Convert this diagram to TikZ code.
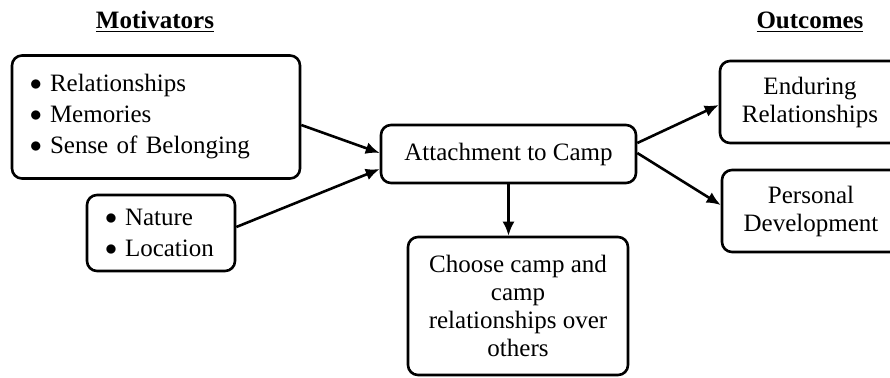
\documentclass[tikz,border=0pt]{standalone}
\usepackage{fontspec}
\setmainfont{Liberation Serif}
\usetikzlibrary{arrows.meta}

\newcommand{\bul}{\raisebox{0.5pt}{$\bullet$}\hspace{4pt}}

\tikzset{
  box/.style={draw=black, line width=1.3pt, rounded corners=5pt, fill=white,
    font=\fontsize{12.5}{14}\selectfont, align=center, inner sep=2pt},
  listbox/.style={box, align=left, inner xsep=9pt, inner ysep=2pt,
    font=\fontsize{12.5}{15.5}\selectfont},
  title/.style={font=\fontsize{12.5}{14}\selectfont\bfseries, inner sep=0pt},
  link/.style={line width=1.3pt, -{Latex[length=7pt,width=6pt]}}
}

\begin{document}
\begin{tikzpicture}[x=0.5pt,y=-0.5pt]
\clip (0,0) rectangle (890,377);
\fill [white] (0,0) rectangle (890,377);
% headings
\node [title] (motiv) at (155,22) {\underline{Motivators}};
\node [title] (outc) at (810,22) {\underline{Outcomes}};
% motivators
\node [listbox, text width=126pt, minimum height=61.5pt] (rel) at (156,117)
  {\bul Relationships\\ \bul Memories\\ \bul Sense of Belonging};
\node [listbox, text width=56pt, minimum height=38pt] (nat) at (161,233)
  {\bul Nature\\ \bul Location};
% centre
\node [box, minimum width=127.5pt, minimum height=29pt] (att) at (508.5,154) {Attachment to Camp};
\node [box, minimum width=110pt, minimum height=69pt] (cho) at (518,306)
  {Choose camp and\\ camp\\ relationships over\\ others};
% outcomes
\node [box, minimum width=90pt, minimum height=41pt] (end) at (810,102) {Enduring\\ Relationships};
\node [box, minimum width=89pt, minimum height=41pt] (dev) at (811,211) {Personal\\ Development};
% connectors
\draw [link] ([yshift=-4pt]rel.east) -- ([yshift=0.5pt]att.west);
\draw [link] ([yshift=3pt]nat.east) -- ([yshift=-7.5pt]att.west);
\draw [link] ([yshift=5.5pt]att.east) -- ([yshift=-1.5pt]end.west);
\draw [link] ([yshift=0.5pt]att.east) -- ([yshift=3pt]dev.west);
\draw [link] (att.south) -- (att.south |- cho.north);
\end{tikzpicture}
\end{document}
